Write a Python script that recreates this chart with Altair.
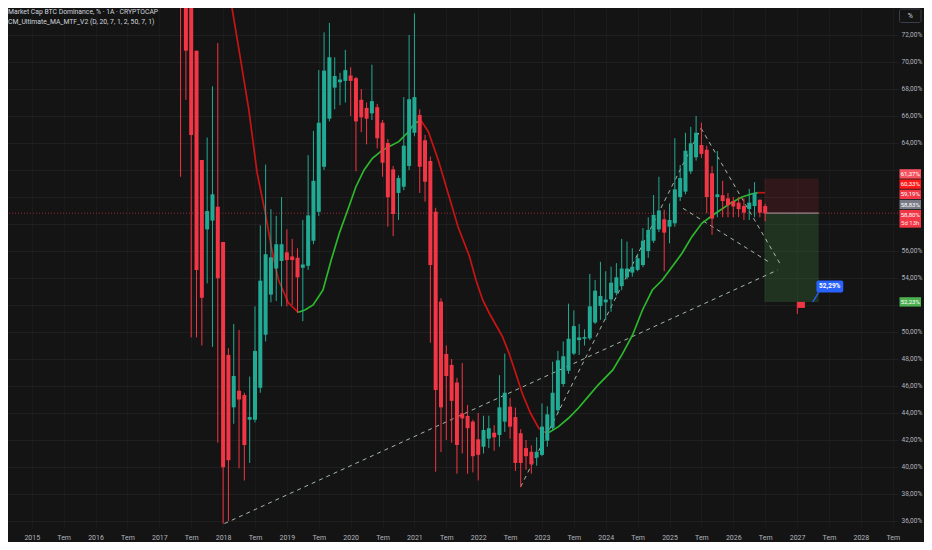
import altair as alt
import pandas as pd

# ---------------- data ----------------
FIRST_MONTH = 28  # first candle = May 2017, months counted from Jan 2015

# monthly candles May 2017 .. Jul 2026
opens = [
    82.0, 77.0, 76.0, 70.84, 62.74, 57.6, 58.25, 59.28,                       # 2017 May-Dec
    56.67, 48.3, 44.42, 45.65, 45.33, 43.5, 43.5, 45.87, 49.8, 52.77, 54.7, 55.26,   # 2018
    55.9, 55.6, 55.5, 54.76, 54.9, 56.76, 58.9, 62.24, 65.8, 68.1, 68.5, 68.6,       # 2019
    69.0, 68.8, 67.2, 66.6, 66.2, 66.65, 65.5, 64.0, 62.05, 60.3, 60.76, 62.3,       # 2020
    64.76, 66.07, 64.2, 62.67, 58.9, 52.25, 48.37, 47.56, 46.25, 43.98, 43.78, 43.36,  # 2021
    42.05, 41.5, 42.1, 42.54, 42.37, 43.36, 44.47, 43.7, 42.5, 41.4, 41.13, 40.7,    # 2022
    40.9, 41.95, 42.9, 44.2, 46.15, 47.13, 48.4, 49.4, 49.5, 49.53, 50.7, 51.93,     # 2023
    52.2, 52.42, 52.9, 53.4, 54.05, 54.4, 54.6, 54.96, 56.0, 56.76, 57.6, 58.35,     # 2024
    57.8, 58.05, 60.0, 60.4, 61.9, 62.94, 63.85, 63.5, 61.76, 60.0, 60.13, 59.9,     # 2025
    59.7, 59.58, 59.33, 59.1, 59.33, 59.8, 59.33,                                    # 2026
]
highs = [
    83.0, 79.0, 77.0, 70.84, 62.74, 64.4, 68.2, 71.4,
    56.67, 48.8, 50.6, 50.15, 45.5, 46.7, 51.9, 57.9, 62.4, 59.1, 58.6, 60.0,
    57.6, 56.9, 56.2, 58.3, 63.1, 64.9, 69.4, 72.2, 72.9, 70.35, 69.2, 70.9,
    69.6, 68.9, 68.0, 67.0, 69.8, 66.9, 65.7, 64.3, 62.3, 61.6, 67.4, 72.0,
    73.6, 66.5, 64.6, 63.0, 59.2, 52.5, 49.0, 48.0, 46.6, 47.7, 44.6, 43.5,
    44.0, 43.8, 43.8, 43.1, 46.8, 48.4, 45.1, 44.4, 42.8, 42.0, 41.6, 42.2,
    44.7, 44.5, 47.8, 48.6, 49.3, 52.1, 51.6, 50.6, 50.2, 54.3, 53.85, 55.2,
    54.5, 54.84, 55.1, 56.9, 56.7, 56.2, 55.8, 57.7, 58.5, 60.15, 61.5, 59.05,
    59.53, 64.35, 62.37, 64.76, 65.2, 66.0, 65.5, 63.8, 62.3, 63.4, 61.2, 60.3,
    60.0, 60.0, 59.9, 60.6, 61.1, 59.8, 59.5,
]
lows = [
    61.5, 67.2, 49.6, 49.6, 49.0, 53.6, 48.9, 41.8,
    35.8, 36.0, 43.2, 39.9, 39.0, 40.3, 43.3, 45.5, 49.3, 52.2, 52.3, 51.9,
    51.9, 52.0, 51.4, 50.8, 54.6, 56.5, 58.6, 62.0, 65.6, 66.5, 66.8, 67.0,
    66.0, 61.9, 64.8, 63.9, 65.7, 63.6, 61.5, 57.8, 57.1, 58.3, 60.5, 62.0,
    64.5, 60.3, 59.65, 49.2, 39.65, 41.1, 42.0, 41.8, 39.5, 41.0, 39.5, 39.6,
    39.0, 41.0, 41.4, 41.2, 41.5, 42.6, 42.1, 39.7, 38.5, 39.8, 39.5, 40.1,
    40.8, 41.5, 42.7, 43.95, 45.95, 46.9, 48.3, 48.3, 49.0, 49.4, 50.6, 50.9,
    50.9, 51.5, 52.7, 53.1, 53.9, 54.1, 54.5, 54.8, 55.5, 56.6, 57.4, 54.5,
    56.57, 57.8, 59.7, 60.2, 61.7, 62.7, 62.9, 58.8, 57.2, 58.5, 58.5, 58.5,
    58.5, 58.5, 58.3, 58.3, 58.5, 58.5, 58.2,
]
closes = [
    77.0, 70.84, 64.6, 54.6, 52.54, 58.96, 60.2, 53.98,
    39.98, 40.5, 46.74, 45.0, 41.63, 43.7, 48.6, 53.8, 55.76, 55.53, 56.5, 56.5,
    55.33, 55.33, 54.05, 55.0, 58.64, 61.2, 65.5, 69.36, 70.35, 68.96, 68.7, 69.4,
    68.6, 65.6, 65.9, 65.8, 67.1, 64.35, 62.54, 59.98, 58.74, 61.4, 63.8, 67.24,
    67.4, 62.24, 61.13, 54.96, 45.7, 44.42, 46.74, 44.9, 41.63, 43.6, 42.87, 40.8,
    40.9, 42.74, 42.87, 42.2, 44.42, 45.5, 42.99, 40.3, 40.3, 40.8, 40.2, 41.13,
    42.99, 43.9, 45.5, 47.9, 48.2, 49.5, 50.44, 49.6, 49.62, 51.9, 53.06, 52.67,
    52.4, 53.65, 54.05, 54.7, 54.7, 54.84, 55.46, 56.76, 57.56, 58.67, 59.0, 57.36,
    58.3, 60.57, 61.4, 63.43, 63.98, 64.76, 63.19, 60.0, 58.4, 60.2, 59.7, 59.4,
    59.3, 59.1, 58.84, 59.58, 60.3, 58.84, 58.80,
]

# moving average (month, value)
ma_m = [37.43, 38.99, 40.85, 42.40, 43.94, 45.18, 46.43, 48.29, 50.15,
        51.38, 52.94, 54.80, 56.34, 57.88, 59.45, 60.99, 62.53, 64.09, 65.64,
        67.18, 69.04, 70.60, 72.15, 73.26,
        74.62, 76.48, 78.34, 80.20, 82.37, 83.62, 84.85, 86.09, 87.34, 88.57,
        89.81, 91.06, 92.28, 93.85, 95.39, 96.60,
        97.56, 99.11, 100.97, 102.83, 104.69, 106.55, 109.33, 111.19, 113.05,
        114.91, 116.77, 118.63, 120.49, 122.35, 124.21, 126.07, 127.93,
        129.79, 131.65, 133.51, 135.37, 136.61, 137.97]
ma_v = [74.59, 70.89, 66.44, 61.78, 58.81, 56.07, 53.85, 52.15, 51.46,
        51.63, 52.00, 53.11, 55.33, 57.33, 59.04, 60.76, 62.00, 62.87, 63.36,
        63.73, 64.10, 64.72, 65.50, 65.65,
        64.84, 62.74, 60.27, 57.80, 55.58, 53.80, 52.37, 51.39, 50.52, 49.65,
        48.42, 46.94, 45.46, 43.98, 42.87, 42.55,
        42.61, 42.99, 43.61, 44.35, 45.21, 46.07, 47.19, 48.42, 49.78,
        51.63, 53.11, 53.85, 54.84, 55.83, 57.06, 58.05, 58.59,
        59.09, 59.58, 59.98, 60.22, 60.32, 60.32]
ma_turns = [50.15, 73.26, 96.60, 136.61]   # months where the MA changes direction

# dashed trend lines (start month, start value, end month, end value)
tl_m0 = [36.26, 91.99, 125.94, 122.54]
tl_v0 = [35.81, 38.54, 65.09, 59.16]
tl_m1 = [140.33, 125.94, 140.94, 139.09]
tl_v1 = [54.59, 65.09, 54.96, 55.09]

# short position tool
pos_start, pos_end = 137.85, 148.07
pos_stop, pos_entry, pos_target = 61.37, 58.80, 52.23

# price-scale tags
tag_values = [61.37, 60.33, 59.19, 58.83]          # stacked above the last price tag
tag_texts = ["61,37%", "60,33%", "59,19%", "58,83%"]
tag_colors = ["#f7525f", "#ff1a1a", "#f23645", "#787b86"]
last_price, last_text, countdown = 58.80, "58,80%", "5d 13h"
target_text = "52,23%"

flag_month, flag_value = 144.05, 52.23
callout_month, callout_value, callout_text = 146.95, 52.23, "52,29%"

header1 = "Market Cap BTC Dominance, % · 1A · CRYPTOCAP"
header2 = "CM_Ultimate_MA_MTF_V2 (D, 20, 7, 1, 2, 50, 7, 1)"

# ---------------- geometry ----------------
W, H = 890, 520
Y_TOP, Y_BOT = 74.0, 35.481
X_LO, X_HI = -3.533, 162.05


def v2px(v):
    return (Y_TOP - v) * H / (Y_TOP - Y_BOT)


def px2v(p):
    return Y_TOP - p * (Y_TOP - Y_BOT) / H


FONT = "Roboto"
BG = "#141414"
UP, DOWN = "#22ab94", "#f23645"
MA_UP, MA_DOWN = "#2cb82c", "#c81414"

color_scale = alt.Scale(domain=["bull", "bear", "rising", "falling"],
                        range=[UP, DOWN, MA_UP, MA_DOWN])

xs = alt.Scale(domain=[X_LO, X_HI], nice=False, zero=False)
ys = alt.Scale(domain=[Y_BOT, Y_TOP], nice=False, zero=False)

x_axis = alt.Axis(values=list(range(0, 163, 6)),
                  labelExpr="datum.value % 12 == 0 ? toString(2015 + datum.value / 12) : 'Tem'",
                  grid=True, gridColor="#1b1b1b", ticks=False, domain=False, title=None,
                  labelColor="#b2b5be", labelFont=FONT, labelFontSize=7, labelPadding=5,
                  labelOverlap=False, labelFlush=False)
y_axis = alt.Axis(orient="right", values=list(range(36, 73, 2)),
                  labelExpr="indexof([52, 58, 60, 62], datum.value) >= 0 ? '' : "
                            "replace(format(datum.value, '.2f'), '.', ',') + '%'",
                  grid=True, gridColor="#1f1f1f", ticks=False, domain=False, title=None,
                  labelColor="#b2b5be", labelFont=FONT, labelFontSize=6.5, labelPadding=3,
                  labelOverlap=False, labelFlush=False)


def X(field):
    return alt.X(field, type="quantitative", scale=xs, axis=x_axis)


def Y(field):
    return alt.Y(field, type="quantitative", scale=ys, axis=y_axis)


# ---------------- tables ----------------
n = len(opens)
candles = pd.DataFrame({
    "m": [FIRST_MONTH + i for i in range(n)],
    "open": opens, "high": highs, "low": lows, "close": closes,
})
candles["dir"] = ["bull" if c >= o else "bear" for o, c in zip(opens, closes)]

bounds = [-1e9] + ma_turns + [1e9]
ma_rows = []
for s in range(len(bounds) - 1):
    for m, v in zip(ma_m, ma_v):
        if bounds[s] <= m <= bounds[s + 1]:
            ma_rows.append({"m": m, "v": v, "seg": s,
                            "trend": "falling" if s % 2 == 0 else "rising"})
ma = pd.DataFrame(ma_rows)

trends = pd.DataFrame({"m0": tl_m0, "v0": tl_v0, "m1": tl_m1, "v1": tl_v1})

zones = pd.DataFrame({"m0": [pos_start, pos_start], "m1": [pos_end, pos_end],
                      "v0": [pos_stop, pos_entry], "v1": [pos_entry, pos_target],
                      "kind": ["risk", "reward"]})
entry = pd.DataFrame({"m0": [pos_start], "m1": [pos_end], "v": [pos_entry]})
last_df = pd.DataFrame({"v": [last_price]})

# stacked tags on the price scale
anchor_top = v2px(last_price) - 3.2
tag_rows = []
for i, (val, txt, col) in enumerate(zip(reversed(tag_values), reversed(tag_texts), reversed(tag_colors))):
    top = anchor_top - 10.2 * (i + 1)
    tag_rows.append({"top": px2v(top), "bot": px2v(top + 9.4), "mid": px2v(top + 4.9),
                     "text": txt, "bg": col, "val": val})
tag_rows.append({"top": px2v(anchor_top), "bot": px2v(anchor_top + 17.7),
                 "mid": px2v(anchor_top + 4.6), "text": last_text, "bg": "#f23645", "val": last_price})
tag_rows.append({"top": px2v(v2px(pos_target) - 4.7), "bot": px2v(v2px(pos_target) + 4.7),
                 "mid": px2v(v2px(pos_target) + 0.2), "text": target_text, "bg": "#4caf50",
                 "val": pos_target})
tags = pd.DataFrame(tag_rows)
count_df = pd.DataFrame({"mid": [px2v(anchor_top + 12.8)], "text": [countdown]})

flag = pd.DataFrame({"m": [flag_month], "v": [flag_value]})
callout = pd.DataFrame({"m": [callout_month], "v": [callout_value], "text": [callout_text]})
head1_df = pd.DataFrame({"text": [header1]})
head2_df = pd.DataFrame({"text": [header2]})

# ---------------- layers ----------------
base_axes = alt.Chart(trends).mark_point(opacity=0).encode(x=X("m0"), y=Y("v0"))

risk = alt.Chart(zones).transform_filter("datum.kind == 'risk'").mark_rect(
    color="#f23645", opacity=0.13).encode(x=X("m0"), x2="m1", y=Y("v0"), y2="v1")
reward = alt.Chart(zones).transform_filter("datum.kind == 'reward'").mark_rect(
    color="#4caf50", opacity=0.2).encode(x=X("m0"), x2="m1", y=Y("v0"), y2="v1")
entry_line = alt.Chart(entry).mark_rule(color="#8a8d93", strokeWidth=1.2).encode(
    x=X("m0"), x2="m1", y=Y("v"))

price_line = alt.Chart(last_df).mark_rule(color="#f23645", strokeWidth=1, strokeDash=[1, 2],
                                          opacity=0.6).encode(y=Y("v"))

trend_lines = alt.Chart(trends).mark_rule(color="#bcd6c0", strokeWidth=1, strokeDash=[4, 4],
                                          opacity=0.85).encode(
    x=X("m0"), x2="m1", y=Y("v0"), y2="v1")

ma_line = alt.Chart(ma).mark_line(strokeWidth=1.7, clip=True).encode(
    x=X("m"), y=Y("v"),
    color=alt.Color("trend:N", scale=color_scale, legend=None),
    detail="seg:N", order="m:Q")

wicks = alt.Chart(candles).mark_rule(strokeWidth=1, clip=True).encode(
    x=X("m"), y=Y("low"), y2="high",
    color=alt.Color("dir:N", scale=color_scale, legend=None))
bodies = alt.Chart(candles).mark_bar(size=4, clip=True).encode(
    x=X("m"), y=Y("open"), y2="close",
    color=alt.Color("dir:N", scale=color_scale, legend=None))

flag_pole = alt.Chart(flag).mark_rule(color="#f23645", strokeWidth=1, y2Offset=12).encode(
    x=X("m"), y=Y("v"), y2="v")
flag_box = alt.Chart(flag).mark_rect(color="#f23645", x2Offset=7.6, y2Offset=6).encode(
    x=X("m"), x2="m", y=Y("v"), y2="v")

callout_ptr = alt.Chart(callout).mark_rule(color="#2962ff", strokeWidth=1.2,
                                           x2Offset=6, y2Offset=-9.5).encode(
    x=X("m"), x2="m", y=Y("v"), y2="v")
callout_box = alt.Chart(callout).mark_rect(color="#2962ff", cornerRadius=2,
                                           xOffset=3.7, x2Offset=30.5,
                                           yOffset=-21.5, y2Offset=-9.3).encode(
    x=X("m"), x2="m", y=Y("v"), y2="v")
callout_txt = alt.Chart(callout).mark_text(color="white", font=FONT, fontSize=6.5,
                                           fontWeight="bold", dx=17, dy=-15.4,
                                           align="center", baseline="middle").encode(
    x=X("m"), y=Y("v"), text="text:N")

TAG_X0, TAG_X1 = W + 1.5, W + 23.0
tag_boxes = alt.Chart(tags).mark_rect(clip=False).encode(
    x=alt.value(TAG_X0), x2=alt.value(TAG_X1), y=Y("top"), y2="bot",
    color=alt.Color("bg:N", scale=None))
tag_text = alt.Chart(tags).mark_text(color="white", font=FONT, fontSize=6,
                                     align="center", baseline="middle").encode(
    x=alt.value((TAG_X0 + TAG_X1) / 2), y=Y("mid"), text="text:N")
count_text = alt.Chart(count_df).mark_text(color="#ffe3e5", font=FONT, fontSize=6,
                                           align="center", baseline="middle").encode(
    x=alt.value((TAG_X0 + TAG_X1) / 2), y=Y("mid"), text="text:N")

header_1 = alt.Chart(head1_df).mark_text(color="#d1d4dc", font=FONT, fontSize=6.8,
                                         align="left", baseline="middle").encode(
    x=alt.value(0), y=alt.value(3.8), text="text:N")
header_2 = alt.Chart(head2_df).mark_text(color="#d1d4dc", font=FONT, fontSize=6.8,
                                         align="left", baseline="middle").encode(
    x=alt.value(0), y=alt.value(14.3), text="text:N")

pct_df = pd.DataFrame({"text": ["%"]})
pct_box = alt.Chart(pct_df).mark_rect(fill=BG, stroke="#3c3f47", strokeWidth=1,
                                      cornerRadius=2).encode(
    x=alt.value(TAG_X0), x2=alt.value(TAG_X1), y=alt.value(1), y2=alt.value(14.5))
pct_txt = alt.Chart(pct_df).mark_text(color="#d1d4dc", font=FONT, fontSize=7,
                                      align="center", baseline="middle").encode(
    x=alt.value((TAG_X0 + TAG_X1) / 2), y=alt.value(8), text="text:N")

chart = alt.layer(
    base_axes, risk, reward, entry_line, price_line, trend_lines, ma_line, wicks, bodies,
    flag_pole, flag_box, callout_ptr, callout_box, callout_txt,
    tag_boxes, tag_text, count_text, header_1, header_2, pct_box, pct_txt,
).resolve_scale(y="shared").properties(
    width=W, height=H,
    autosize=alt.AutoSizeParams(type="none"),
    padding={"left": 0, "top": 0, "right": 26, "bottom": 14},
    background=BG,
).configure_view(stroke=None)

chart.save("out.html", embed_options={"renderer": "svg", "actions": False})
